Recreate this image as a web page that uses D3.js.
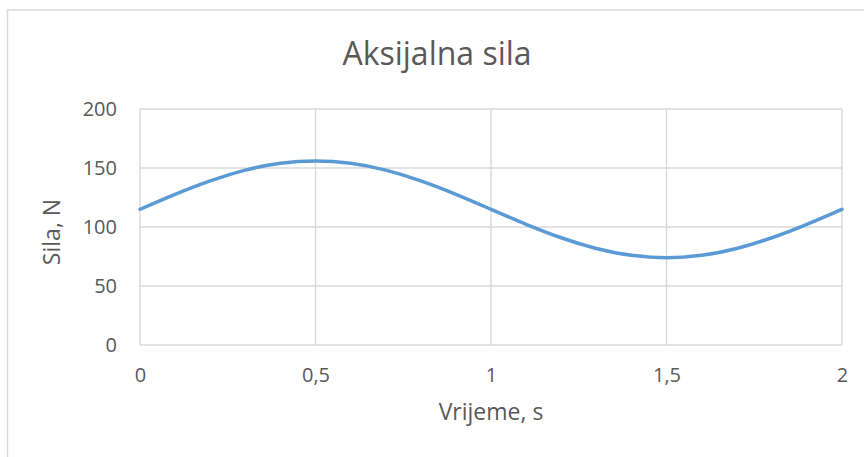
<!DOCTYPE html>
<html>
<head>
<meta charset="utf-8">
<script src="https://cdn.jsdelivr.net/npm/d3@7"></script>
<style>
  body { margin: 0; background: #fff; }
  text { font-family: "Open Sans", sans-serif; fill: #595959; }
</style>
</head>
<body>
<div id="chart-area"></div>
<script>

// data
let time = [0, 0.1, 0.2, 0.3, 0.4, 0.5, 0.6, 0.7, 0.8, 0.9, 1,
	1.1, 1.2, 1.3, 1.4, 1.5, 1.6, 1.7, 1.8, 1.9, 2];
let force = [115, 127.7, 139.1, 148.2, 154, 156, 154, 148.2, 139.1, 127.7, 115,
	102.3, 90.9, 81.8, 76, 74, 76, 81.8, 90.9, 102.3, 115];

let xTicks = [0, 0.5, 1, 1.5, 2];
let xTickLabels = ["0", "0,5", "1", "1,5", "2"];
let yTicks = [0, 50, 100, 150, 200];

let title = "Aksijalna sila",
	xTitle = "Vrijeme, s",
	yTitle = "Sila, N";

let width = 864,
	height = 457;

let margin = {top: 109, right: 22, bottom: 112, left: 140};
let innerW = width - margin.left - margin.right,
	innerH = height - margin.top - margin.bottom;

let svg = d3.select("#chart-area").append("svg")
	.attr("width", width)
	.attr("height", height);

// chart border (runs off the right and bottom edges)
svg.append("rect")
	.attr("x", 7.5)
	.attr("y", 10)
	.attr("width", 900)
	.attr("height", 500)
	.attr("fill", "none")
	.attr("stroke", "#d9d9d9")
	.attr("stroke-width", 1.5);

let g = svg.append("g")
	.attr("transform", `translate(${margin.left},${margin.top})`);

// scales
let x = d3.scaleLinear().domain([0, 2]).range([0, innerW]);
let y = d3.scaleLinear().domain([0, 200]).range([innerH, 0]);

// grid
g.append("g")
	.selectAll("line.h")
	.data(yTicks)
	.enter().append("line")
	.attr("x1", 0).attr("x2", innerW)
	.attr("y1", d => y(d)).attr("y2", d => y(d))
	.attr("stroke", "#d9d9d9")
	.attr("stroke-width", 1.4);

g.append("g")
	.selectAll("line.v")
	.data(xTicks)
	.enter().append("line")
	.attr("x1", d => x(d)).attr("x2", d => x(d))
	.attr("y1", 0).attr("y2", innerH)
	.attr("stroke", "#d9d9d9")
	.attr("stroke-width", 1.4);

// axes (labels only, lines come from the grid)
let xAxis = d3.axisBottom(x)
	.tickValues(xTicks)
	.tickSize(0)
	.tickPadding(23)
	.tickFormat((d, i) => xTickLabels[i]);

let yAxis = d3.axisLeft(y)
	.tickValues(yTicks)
	.tickSize(0)
	.tickPadding(23);

let xg = g.append("g")
	.attr("transform", `translate(0,${innerH})`)
	.call(xAxis);

let yg = g.append("g").call(yAxis);

[xg, yg].forEach(a => {
	a.select(".domain").remove();
	a.selectAll("text")
		.style("font-family", "'Open Sans', sans-serif")
		.style("font-size", "20px")
		.attr("fill", "#595959");
});

// line
let line = d3.line()
	.x((d, i) => x(time[i]))
	.y(d => y(d))
	.curve(d3.curveNatural);

g.append("path")
	.datum(force)
	.attr("d", line)
	.attr("fill", "none")
	.attr("stroke", "#5b9bd5")
	.attr("stroke-width", 3.5)
	.attr("stroke-linecap", "round");

// titles
svg.append("text")
	.attr("x", margin.left + innerW / 2 - 54)
	.attr("y", 65)
	.attr("text-anchor", "middle")
	.style("font-size", "32px")
	.text(title);

svg.append("text")
	.attr("x", margin.left + innerW / 2)
	.attr("y", 420)
	.attr("text-anchor", "middle")
	.style("font-size", "23px")
	.text(xTitle);

svg.append("text")
	.attr("transform", "translate(60,232) rotate(-90)")
	.attr("text-anchor", "middle")
	.style("font-size", "23px")
	.text(yTitle);

</script>
</body>
</html>
